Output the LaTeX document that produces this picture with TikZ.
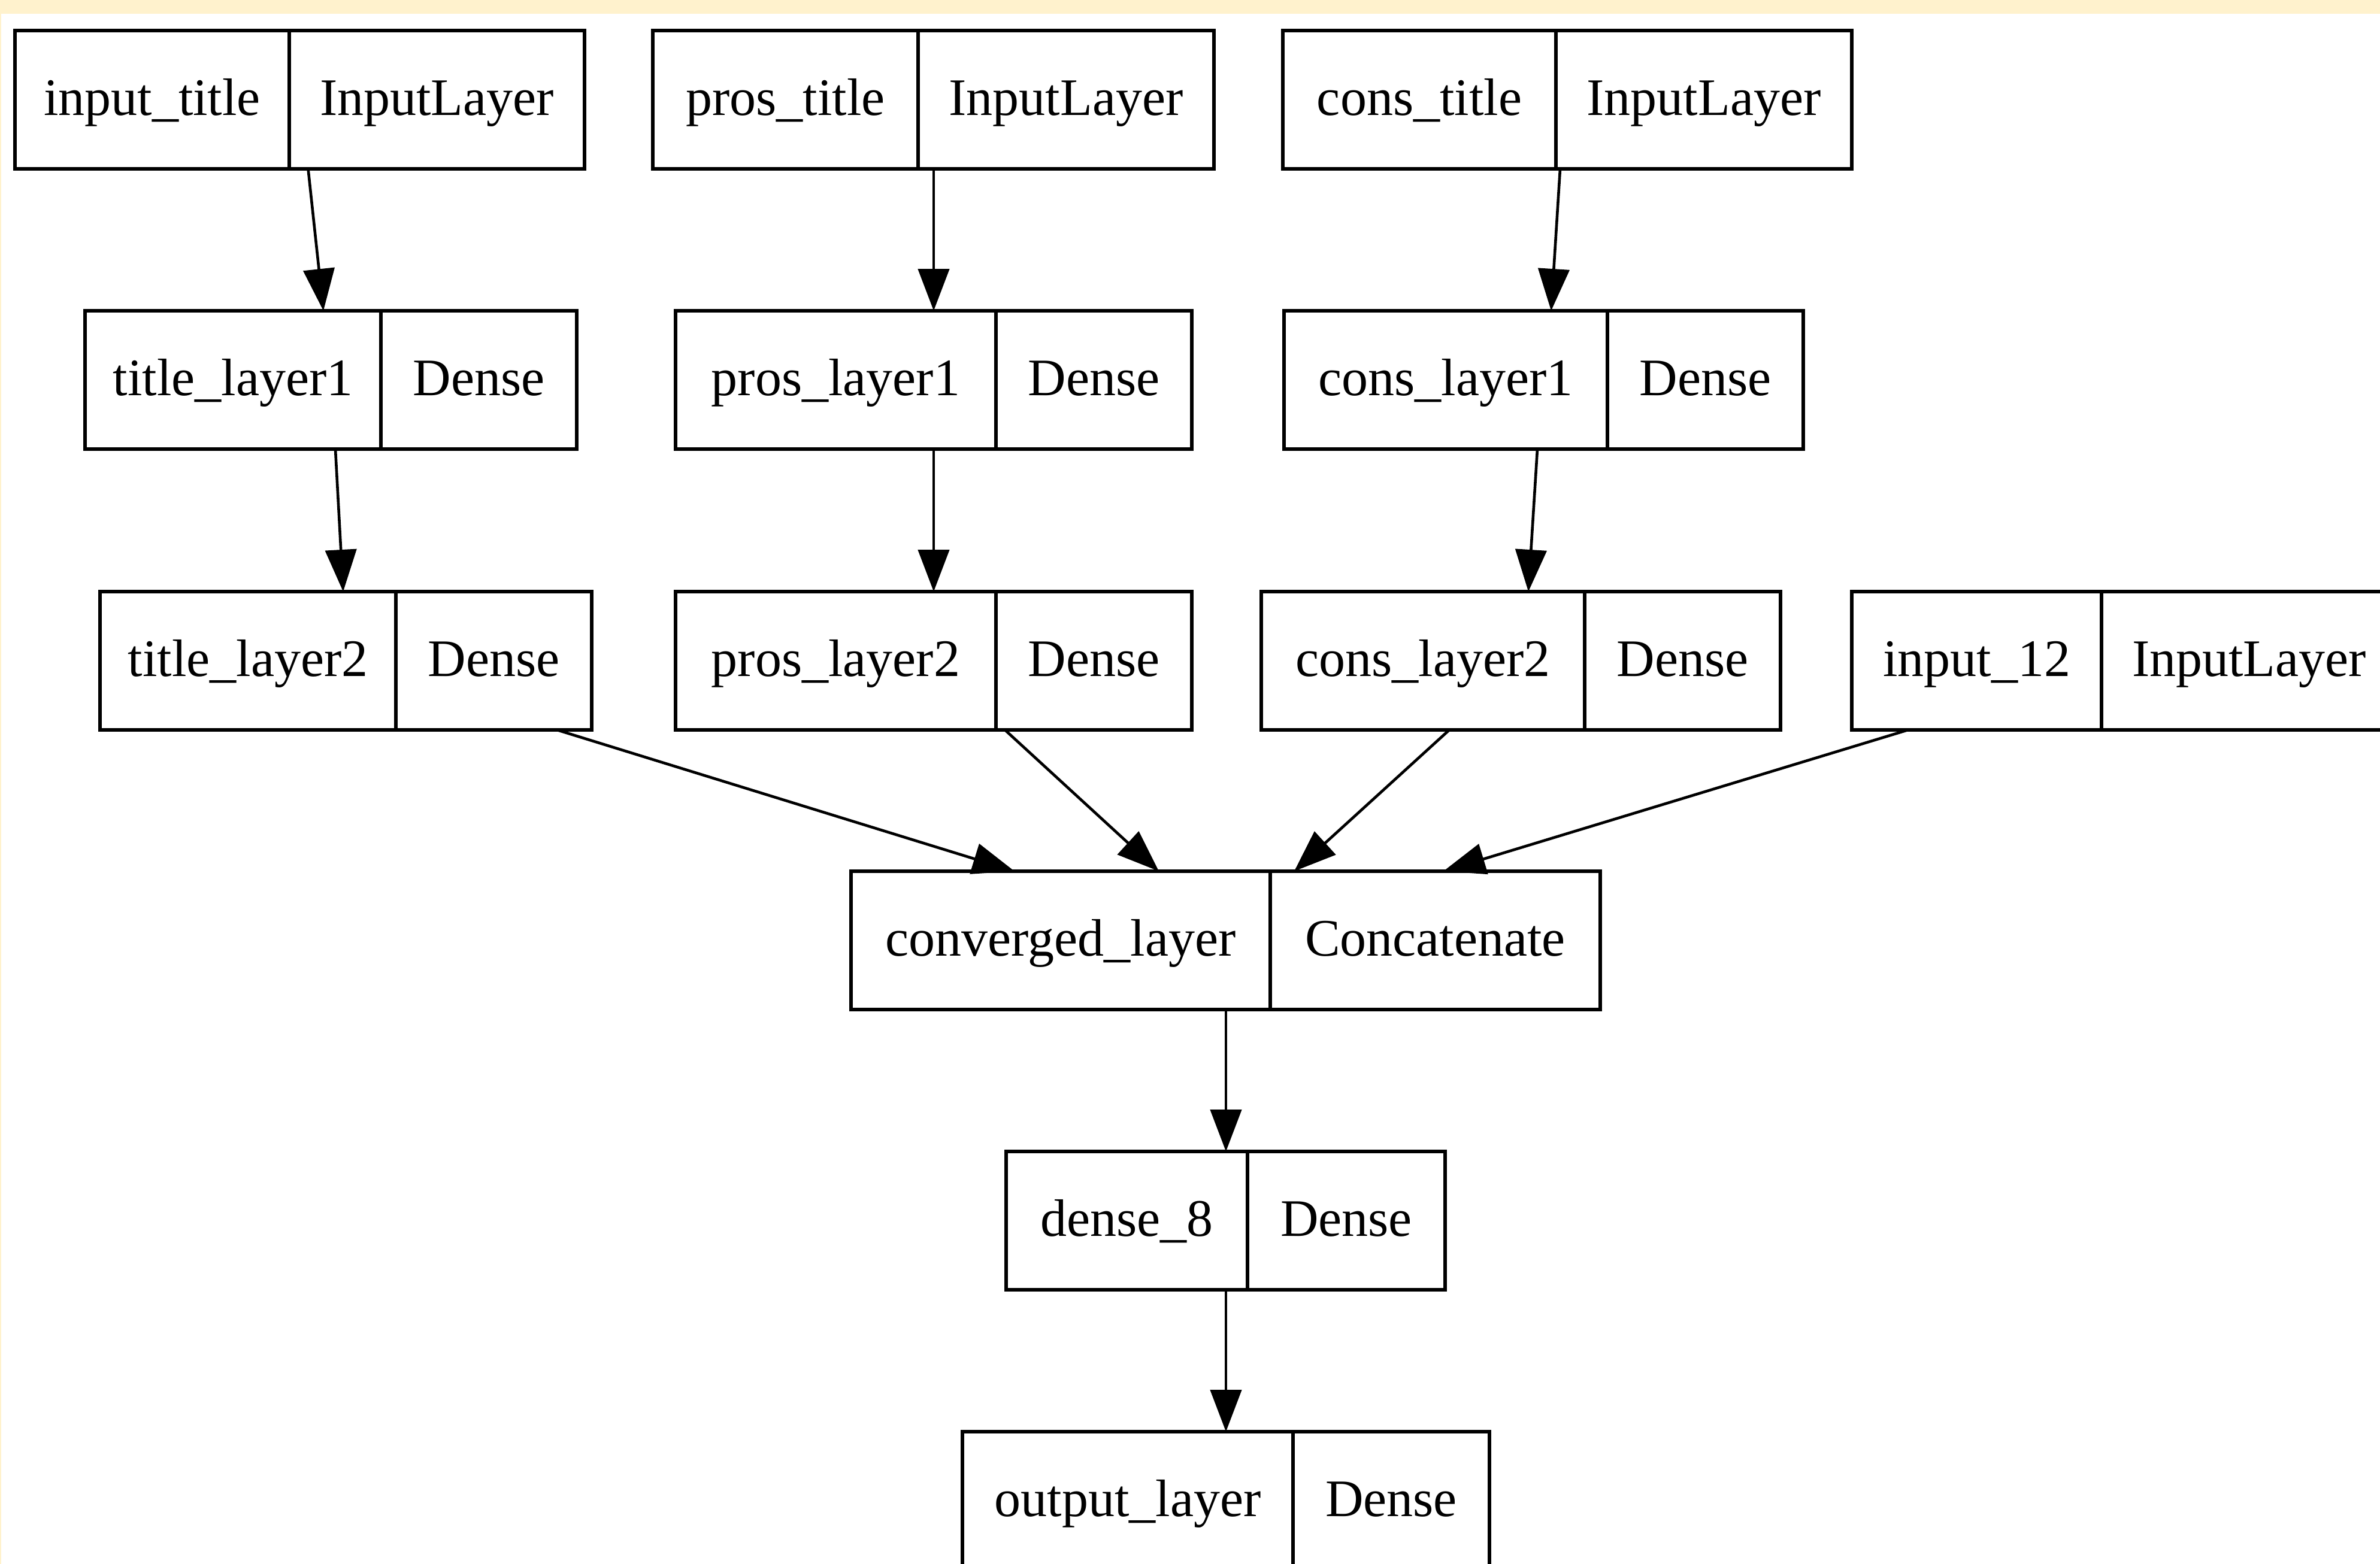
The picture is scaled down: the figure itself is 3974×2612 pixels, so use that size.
\documentclass[tikz,border=0pt]{standalone}
\usepackage{fontspec}
\setmainfont{Liberation Serif}
\usetikzlibrary{arrows.meta,calc}
\definecolor{cream}{HTML}{FFF2CD}
\tikzset{
  recbox/.style={draw=black, line width=1.4pt, fill=white, rectangle, inner sep=0pt, outer sep=0pt, minimum height=57.75pt},
  rectext/.style={inner sep=0pt, outer sep=0pt, font=\fontsize{22}{26}\selectfont},
  recline/.style={draw=black, line width=1.4pt},
  conn/.style={draw=black, line width=1.15pt, -{Triangle[length=17.5pt,width=13pt]}}
}
\newcommand\rec[7]{%
  \node[recbox, minimum width={(#4-#2)*0.25pt}, anchor=north west] (#1) at (#2,#5) {};
  \node[rectext, anchor=base] (#1-l) at ({(#2+#3)/2},#5+141) {#6};
  \node[rectext, anchor=base] (#1-r) at ({(#3+#4)/2},#5+141) {#7};
  \draw[recline] (#3,#5) -- (#3,#5+231);
}
\newcommand\conn[4]{%
  \draw[conn] ($(#1.south west)+(#2,0)$) -- ($(#3.north west)+(#4,0)$);
}
\begin{document}
\begin{tikzpicture}[x=0.25pt,y=-0.25pt]
  \useasboundingbox (0,0) rectangle (3974,2612);
  \clip (0,0) rectangle (3974,2612);
  \fill[white] (0,0) rectangle (3974,2612);
  \fill[cream] (0,0) rectangle (3974,23);
  \fill[cream] (0,0) rectangle (2,2612);
  % row 1
  \rec{it}{25}{483}{976}{51}{input\_title}{InputLayer}
  \rec{pt}{1090}{1533}{2027}{51}{pros\_title}{InputLayer}
  \rec{ct}{2142}{2598}{3092}{51}{cons\_title}{InputLayer}
  % row 2
  \rec{tla}{142}{636}{963}{519}{title\_layer1}{Dense}
  \rec{pla}{1128}{1663}{1990}{519}{pros\_layer1}{Dense}
  \rec{cla}{2144}{2684}{3011}{519}{cons\_layer1}{Dense}
  % row 3
  \rec{tlb}{167}{661}{988}{988}{title\_layer2}{Dense}
  \rec{plb}{1128}{1663}{1990}{988}{pros\_layer2}{Dense}
  \rec{clb}{2106}{2646}{2973}{988}{cons\_layer2}{Dense}
  \rec{inb}{3092}{3509}{4002}{988}{input\_12}{InputLayer}
  % row 4-6
  \rec{cv}{1421}{2121}{2672}{1455}{converged\_layer}{Concatenate}
  \rec{de}{1680}{2083}{2413}{1923}{dense\_8}{Dense}
  \rec{ol}{1607}{2159}{2487}{2391}{output\_layer}{Dense}
  % connectors
  \conn{it}{489.5}{tla}{398}
  \conn{pt}{469}{pla}{431}
  \conn{ct}{463}{cla}{446}
  \conn{tla}{418}{tlb}{406}
  \conn{pla}{431}{plb}{431}
  \conn{cla}{423}{clb}{446}
  \conn{tlb}{763}{cv}{273}
  \conn{plb}{550}{cv}{514}
  \conn{clb}{314}{cv}{740}
  \conn{inb}{94}{cv}{989}
  \conn{cv}{626}{de}{367}
  \conn{de}{367}{ol}{440}
\end{tikzpicture}
\end{document}
